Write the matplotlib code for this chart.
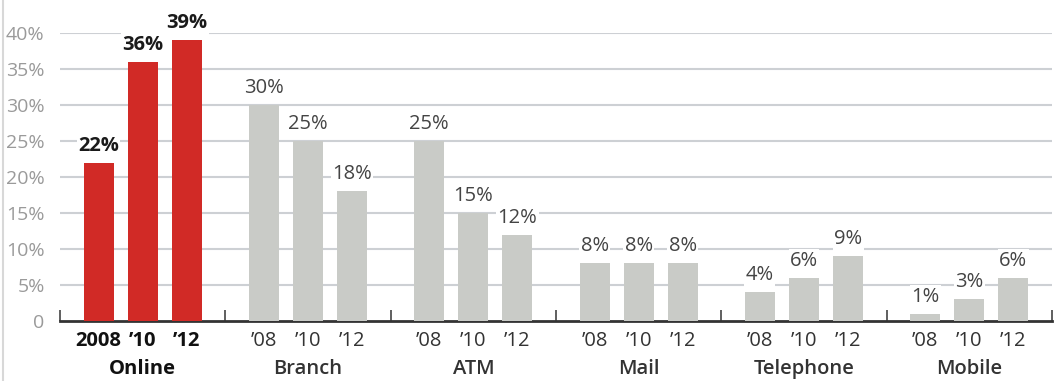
import matplotlib
matplotlib.use("Agg")
import matplotlib.pyplot as plt
from matplotlib.lines import Line2D

plt.rcParams['font.family'] = ['Open Sans', 'DejaVu Sans']

channels = ['Online', 'Branch', 'ATM', 'Mail', 'Telephone', 'Mobile']
years = ['’08', '’10', '’12']
online_years = ['2008', '’10', '’12']
values = [
    [22, 36, 39],
    [30, 25, 18],
    [25, 15, 12],
    [8, 8, 8],
    [4, 6, 9],
    [1, 3, 6],
]
yticks = [0, 5, 10, 15, 20, 25, 30, 35, 40]
ytick_labels = ['0', '5%', '10%', '15%', '20%', '25%', '30%', '35%', '40%']

red = '#d12a26'
grey = '#c9cbc7'
grid_col = '#cdd0d4'

fig = plt.figure(figsize=(10.58, 3.81), dpi=100)
ax = fig.add_axes([60 / 1058, 1 - 321 / 381, 992 / 1058, 288 / 381])

step = 44 / 165
width = 30 / 165
for g, vals in enumerate(values):
    for j, v in enumerate(vals):
        x = g + (j - 1) * step
        col = red if g == 0 else grey
        ax.bar(x, v, width=width, color=col, zorder=3)
        if g == 0:
            ax.annotate(f'{v}%', (x, v), xytext=(0, 5), textcoords='offset points',
                        ha='center', va='bottom', fontsize=14.5, fontweight='bold',
                        color='#1a1a1a', zorder=4,
                        bbox=dict(facecolor='white', edgecolor='none', pad=1))
        else:
            ax.annotate(f'{v}%', (x, v), xytext=(0, 5), textcoords='offset points',
                        ha='center', va='bottom', fontsize=14.5,
                        color='#444444', zorder=4,
                        bbox=dict(facecolor='white', edgecolor='none', pad=1))
        lab = online_years[j] if g == 0 else years[j]
        ax.text(x, -1.4, lab, ha='center', va='top', fontsize=14.5,
                fontweight='bold' if g == 0 else 'normal',
                color='#111111' if g == 0 else '#333333')
    ax.text(g, -5.3, channels[g], ha='center', va='top', fontsize=14.5,
            fontweight='bold' if g == 0 else 'semibold',
            color='#111111' if g == 0 else '#333333')

for y in yticks[1:]:
    ax.axhline(y, color=grid_col, lw=1.5, zorder=1)

ax.set_xlim(-0.5, 5.5)
ax.set_ylim(0, 40)
ax.set_yticks(yticks)
ax.set_yticklabels(ytick_labels, color='#9a9a9a', fontsize=14)
ax.tick_params(axis='y', length=0, pad=11)
ax.set_xticks([g - 0.5 for g in range(7)])
ax.set_xticklabels([])
ax.tick_params(axis='x', direction='in', length=8, width=1.2, color='#444444')
for s in ['top', 'right', 'left']:
    ax.spines[s].set_visible(False)
ax.spines['bottom'].set_color('#333333')
ax.spines['bottom'].set_linewidth(2)

fig.add_artist(Line2D([3 / 1058, 3 / 1058], [0, 1], color='#d8d8d8', lw=1.5))

fig.savefig('out.png', dpi=100)
